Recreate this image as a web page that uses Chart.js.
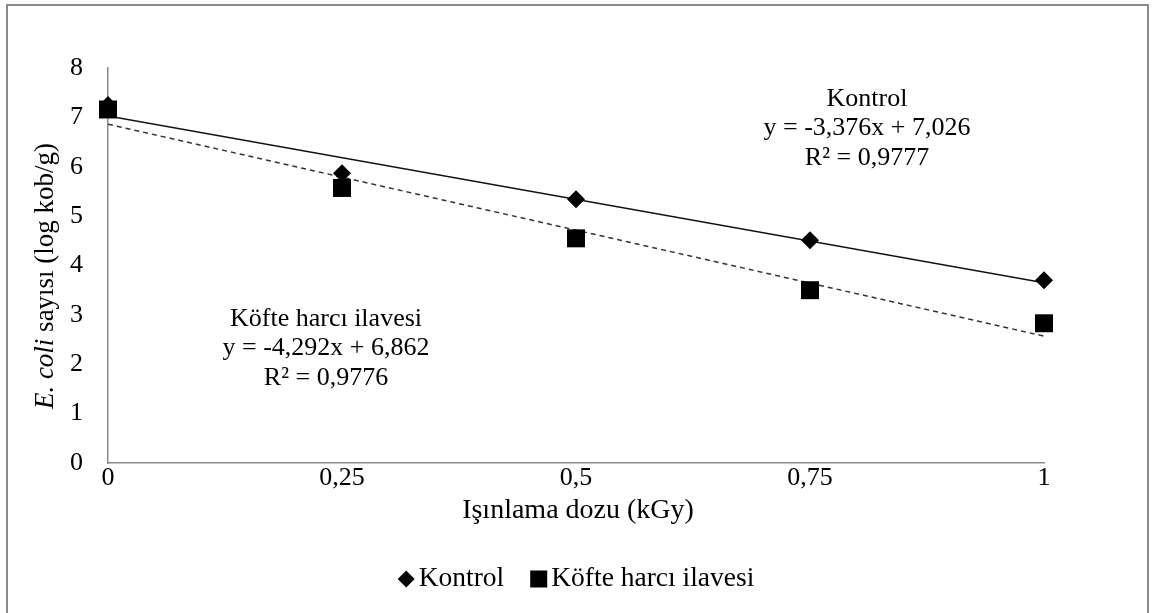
<!DOCTYPE html>
<html>
<head>
<meta charset="utf-8">
<script src="https://cdn.jsdelivr.net/npm/chart.js@4"></script>
<style>
html, body { margin: 0; padding: 0; background: #fff; }
#wrap { position: relative; width: 1156px; height: 613px; }
</style>
</head>
<body>
<div id="wrap"><canvas id="myChart"></canvas></div>
<script>
// doz (kGy) ve log kob/g degerleri
const doses = [0, 0.25, 0.5, 0.75, 1];
const kontrol = [7.25, 5.87, 5.34, 4.51, 3.70];
const kofte = [7.16, 5.57, 4.55, 3.50, 2.83];
const xTickLabels = ['0', '0,25', '0,5', '0,75', '1'];
const seriesNames = ['Kontrol', 'Köfte harcı ilavesi'];

// trend denklemleri: [egim, kesim]
const kontrolFit = [-3.376, 7.026];
const kofteFit = [-4.292, 6.862];
const kontrolLabel = ['Kontrol', 'y = -3,376x + 7,026', 'R² = 0,9777'];
const kofteLabel = ['Köfte harcı ilavesi', 'y = -4,292x + 6,862', 'R² = 0,9776'];

const FONT = '"Liberation Serif", "Times New Roman", serif';

function toPoints(ys) {
    return doses.map((d, i) => ({ x: d, y: ys[i] }));
}
function fitLine(fit) {
    let x0 = doses[0], x1 = doses[doses.length - 1];
    return [{ x: x0, y: fit[0] * x0 + fit[1] }, { x: x1, y: fit[0] * x1 + fit[1] }];
}

const extras = {
    id: 'extras',
    afterDraw(chart) {
        const ctx = chart.ctx;
        const area = chart.chartArea;
        ctx.save();

        // dis cerceve
        ctx.strokeStyle = '#8a8a8a';
        ctx.lineWidth = 2;
        ctx.strokeRect(7, 5, 1141, 640);

        ctx.fillStyle = '#000';
        ctx.textBaseline = 'middle';

        // y ekseni basligi (E. coli italik)
        ctx.save();
        ctx.translate(46, 276);
        ctx.rotate(-Math.PI / 2);
        const partA = 'E. coli';
        const partB = ' sayısı (log kob/g)';
        ctx.font = 'italic 27px ' + FONT;
        let wA = ctx.measureText(partA).width;
        ctx.font = '27px ' + FONT;
        let wB = ctx.measureText(partB).width;
        let sx = -(wA + wB) / 2;
        ctx.textAlign = 'left';
        ctx.font = 'italic 27px ' + FONT;
        ctx.fillText(partA, sx, 0);
        ctx.font = '27px ' + FONT;
        ctx.fillText(partB, sx + wA, 0);
        ctx.restore();

        // x ekseni basligi
        ctx.font = '28px ' + FONT;
        ctx.textAlign = 'center';
        ctx.fillText('Işınlama dozu (kGy)', 578, 511);

        // denklem etiketleri
        ctx.font = '26px ' + FONT;
        kontrolLabel.forEach((t, i) => ctx.fillText(t, 867, 99 + i * 29.5));
        kofteLabel.forEach((t, i) => ctx.fillText(t, 326, 319 + i * 29.5));

        // lejant
        ctx.font = '27.5px ' + FONT;
        const gapMarker = 4, gapItems = 26, mk = 17;
        let w1 = ctx.measureText(seriesNames[0]).width;
        let w2 = ctx.measureText(seriesNames[1]).width;
        let total = mk + gapMarker + w1 + gapItems + mk + gapMarker + w2;
        let lx = (area.left + area.right) / 2 - total / 2;
        let ly = 579;
        ctx.textAlign = 'left';
        ctx.beginPath();
        ctx.moveTo(lx + mk / 2, ly - 8.5);
        ctx.lineTo(lx + mk, ly);
        ctx.lineTo(lx + mk / 2, ly + 8.5);
        ctx.lineTo(lx, ly);
        ctx.closePath();
        ctx.fill();
        ctx.fillText(seriesNames[0], lx + mk + gapMarker, ly);
        let lx2 = lx + mk + gapMarker + w1 + gapItems;
        ctx.fillRect(lx2, ly - 8.5, mk, mk);
        ctx.fillText(seriesNames[1], lx2 + mk + gapMarker, ly);

        ctx.restore();
    }
};

let ctx = document.getElementById('myChart').getContext('2d');
let chart = new Chart(ctx, {
    type: 'scatter',
    data: {
        datasets: [{
            label: seriesNames[1],
            data: toPoints(kofte),
            pointStyle: 'rect',
            pointRadius: 12.7,
            backgroundColor: '#000',
            borderWidth: 0,
            clip: false,
            order: 0
        }, {
            label: seriesNames[0],
            data: toPoints(kontrol),
            pointStyle: 'rectRot',
            pointRadius: 9,
            backgroundColor: '#000',
            borderWidth: 0,
            clip: false,
            order: 1
        }, {
            label: 'trend kontrol',
            data: fitLine(kontrolFit),
            showLine: true,
            pointRadius: 0,
            borderColor: '#111',
            borderWidth: 1.5,
            order: 2
        }, {
            label: 'trend kofte',
            data: fitLine(kofteFit),
            showLine: true,
            pointRadius: 0,
            borderColor: '#333',
            borderWidth: 1.5,
            borderDash: [5, 4],
            order: 3
        }]
    },
    options: {
        responsive: true,
        maintainAspectRatio: false,
        animation: false,
        events: [],
        layout: { padding: { top: 68, right: 112, left: 0, bottom: 0 } },
        plugins: {
            legend: { display: false },
            tooltip: { enabled: false }
        },
        scales: {
            x: {
                type: 'linear',
                min: 0,
                max: 1,
                afterFit: function (scale) { scale.height = 150; },
                afterBuildTicks: function (scale) {
                    scale.ticks = doses.map(v => ({ value: v }));
                },
                grid: { display: false, drawTicks: false },
                border: { display: true, color: '#8a8a8a', width: 1.5 },
                ticks: {
                    autoSkip: false,
                    maxRotation: 0,
                    padding: 0,
                    color: '#000',
                    font: { family: FONT, size: 26 },
                    callback: function (value, index) { return xTickLabels[index]; }
                }
            },
            y: {
                min: 0,
                max: 8,
                afterFit: function (scale) { scale.width = 108; },
                grid: { display: false, drawTicks: false },
                border: { display: true, color: '#8a8a8a', width: 1.5 },
                ticks: {
                    stepSize: 1,
                    padding: 25,
                    color: '#000',
                    font: { family: FONT, size: 26 }
                }
            }
        }
    },
    plugins: [extras]
});
</script>
</body>
</html>
